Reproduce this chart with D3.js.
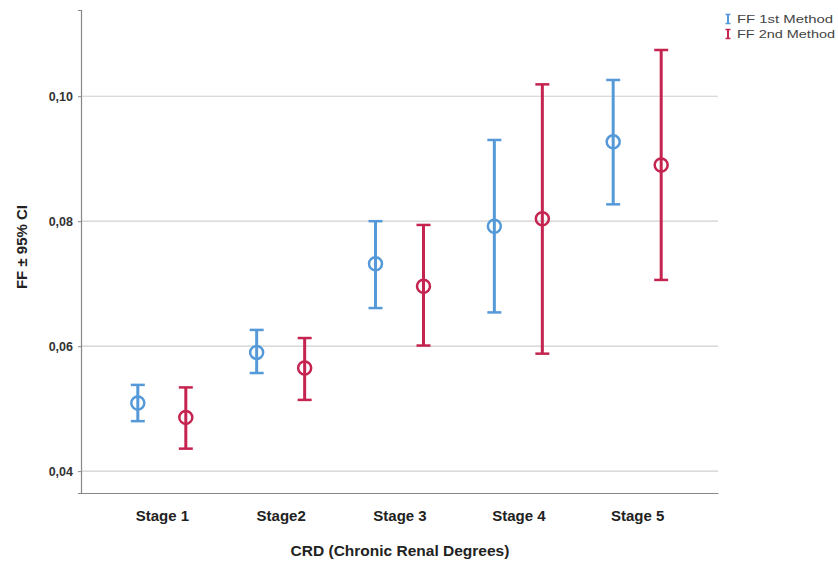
<!DOCTYPE html>
<html><head><meta charset="utf-8">
<script src="https://cdn.jsdelivr.net/npm/d3@7/dist/d3.min.js"></script>
<style>body{margin:0;background:#fff}svg{display:block}</style>
</head><body><svg id="c" width="838" height="562"></svg>
<script>
const categories = ["Stage 1","Stage2","Stage 3","Stage 4","Stage 5"];
const seriesNames = ["FF 1st Method","FF 2nd Method"];
const mean1  = [0.0509,0.0590,0.0732,0.0792,0.0927];
const lower1 = [0.0480,0.0557,0.0661,0.0654,0.0827];
const upper1 = [0.0538,0.0626,0.0800,0.0930,0.1026];
const mean2  = [0.0486,0.0565,0.0696,0.0804,0.0890];
const lower2 = [0.0436,0.0514,0.0601,0.0588,0.0706];
const upper2 = [0.0534,0.0613,0.0794,0.1019,0.1074];
const yTicks = [0.04,0.06,0.08,0.10];
const colors = ["#5599d8","#c4244f"];

const svg = d3.select("#c");
const FONT = "Liberation Sans, Arial, sans-serif";
const L=81, R=718, T=10, B=493;
const x = d3.scalePoint().domain(categories).range([L,R]).padding(0.68);
const y = d3.scaleLinear().domain([0.0365,0.1138]).range([B,T]);
const offsets = [-24,24];
const fmt = v => d3.format(".2f")(v).replace(".",",");

// gridlines
svg.append("g").selectAll("line").data(yTicks).join("line")
  .attr("x1",L).attr("x2",R).attr("y1",d=>y(d)).attr("y2",d=>y(d))
  .attr("stroke","#cfcfcf").attr("stroke-width",1.2);

// axes
const ya = svg.append("g").attr("transform",`translate(${L},0)`)
  .call(d3.axisLeft(y).tickValues(yTicks).tickFormat(fmt).tickSize(3).tickPadding(5));
ya.select(".domain").attr("stroke","#888").attr("stroke-width",1.2);
ya.selectAll(".tick line").attr("stroke","#888");
ya.selectAll("text").attr("font-family",FONT).attr("font-size",12.5).attr("font-weight","bold").attr("fill","#333");

const xa = svg.append("g").attr("transform",`translate(0,${B})`)
  .call(d3.axisBottom(x).tickSize(0).tickPadding(17));
xa.select(".domain").attr("stroke","#888").attr("stroke-width",1.2);
xa.selectAll("text").attr("font-family",FONT).attr("font-size",15).attr("font-weight","bold").attr("fill","#222");

// titles
svg.append("text").attr("x",400).attr("y",556).attr("text-anchor","middle")
  .attr("font-family",FONT).attr("font-size",15.5).attr("font-weight","bold").attr("fill","#222")
  .text("CRD (Chronic Renal Degrees)");
svg.append("text").attr("transform","translate(27,247) rotate(-90)").attr("text-anchor","middle")
  .attr("font-family",FONT).attr("font-size",15).attr("font-weight","bold").attr("fill","#222")
  .text("FF ± 95% CI");

// error bars
const series = [
  {means:mean1, lo:lower1, hi:upper1},
  {means:mean2, lo:lower2, hi:upper2}
];
series.forEach((s,si)=>{
  const g = svg.append("g");
  const data = categories.map((c,i)=>({c, m:s.means[i], lo:s.lo[i], hi:s.hi[i]}));
  const cx = d => x(d.c)+offsets[si];
  const col = colors[si];
  g.selectAll(".v").data(data).join("line")
    .attr("x1",cx).attr("x2",cx).attr("y1",d=>y(d.lo)).attr("y2",d=>y(d.hi))
    .attr("stroke",col).attr("stroke-width",3);
  g.selectAll(".ct").data(data).join("line")
    .attr("x1",d=>cx(d)-7).attr("x2",d=>cx(d)+7).attr("y1",d=>y(d.hi)).attr("y2",d=>y(d.hi))
    .attr("stroke",col).attr("stroke-width",2.5);
  g.selectAll(".cb").data(data).join("line")
    .attr("x1",d=>cx(d)-7).attr("x2",d=>cx(d)+7).attr("y1",d=>y(d.lo)).attr("y2",d=>y(d.lo))
    .attr("stroke",col).attr("stroke-width",2.5);
  g.selectAll("circle").data(data).join("circle")
    .attr("cx",cx).attr("cy",d=>y(d.m)).attr("r",6.5)
    .attr("fill","none").attr("stroke",col).attr("stroke-width",2.5);
});

// legend
const lg = svg.append("g");
seriesNames.forEach((n,i)=>{
  const yy = 19 + i*15;
  const col = colors[i];
  lg.append("line").attr("x1",728).attr("x2",728).attr("y1",yy-4.5).attr("y2",yy+4.5).attr("stroke",col).attr("stroke-width",2);
  lg.append("line").attr("x1",725.5).attr("x2",730.5).attr("y1",yy-4.5).attr("y2",yy-4.5).attr("stroke",col).attr("stroke-width",1.5);
  lg.append("line").attr("x1",725.5).attr("x2",730.5).attr("y1",yy+4.5).attr("y2",yy+4.5).attr("stroke",col).attr("stroke-width",1.5);
  lg.append("text").attr("x",737).attr("y",yy+4).attr("font-family",FONT)
    .attr("font-size",11.5).attr("fill","#444")
    .attr("textLength", i===0 ? 96 : 98).attr("lengthAdjust","spacingAndGlyphs").text(n);
});
</script></body></html>
